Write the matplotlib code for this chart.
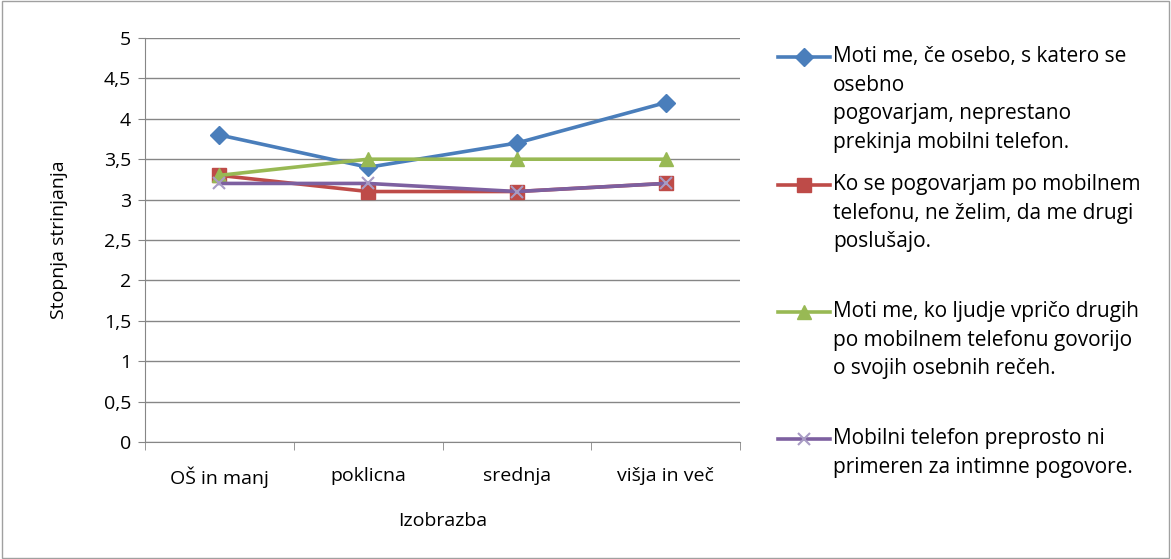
import matplotlib
matplotlib.use("Agg")
import matplotlib.pyplot as plt
from matplotlib.lines import Line2D
from matplotlib.patches import Rectangle

categories = ["OŠ in manj", "poklicna", "srednja", "višja in več"]
s1 = [3.8, 3.4, 3.7, 4.2]
s2 = [3.3, 3.1, 3.1, 3.2]
s3 = [3.3, 3.5, 3.5, 3.5]
s4 = [3.2, 3.2, 3.1, 3.2]
labels = [
    "Moti me, če osebo, s katero se\nosebno\npogovarjam, neprestano\nprekinja mobilni telefon.",
    "Ko se pogovarjam po mobilnem\ntelefonu, ne želim, da me drugi\nposlušajo.",
    "Moti me, ko ljudje vpričo drugih\npo mobilnem telefonu govorijo\no svojih osebnih rečeh.",
    "Mobilni telefon preprosto ni\nprimeren za intimne pogovore.",
]
yticks = [0, 0.5, 1, 1.5, 2, 2.5, 3, 3.5, 4, 4.5, 5]
ytick_labels = ["0", "0,5", "1", "1,5", "2", "2,5", "3", "3,5", "4", "4,5", "5"]

plt.rcParams['font.family'] = ['Open Sans', 'DejaVu Sans']
FS = 14

W, H = 1171, 559
fig = plt.figure(figsize=(W/100, H/100), dpi=100)
fig.patches.append(Rectangle((0.002, 0.002), 0.996, 0.996, transform=fig.transFigure,
                             fill=False, edgecolor="#a0a0a0", linewidth=1.0))

ax = fig.add_axes([145/W, 1-442/H, (740-145)/W, (442-38)/H])
x = list(range(len(categories)))

styles = [
    dict(color="#4A7EBB", marker="D", markersize=9),
    dict(color="#BE4B48", marker="s", markersize=10),
    dict(color="#98B954", marker="^", markersize=10),
    dict(color="#7D60A0", marker="x", markersize=9, markeredgewidth=1.5, markeredgecolor="#A89BC4"),
]
series = [s1, s2, s3, s4]
for s, st in zip(series, styles):
    ax.plot(x, s, linewidth=2.6, **st)

ax.set_xlim(-0.5, len(categories)-0.5)
ax.set_ylim(0, 5)
ax.set_yticks(yticks)
ax.set_yticklabels(ytick_labels, fontsize=FS)
ax.set_xticks(x)
ax.set_xticklabels(categories, fontsize=FS)
ax.tick_params(axis='x', length=0, pad=18)
ax.tick_params(axis='y', length=5, color="#868686", pad=5)
ax.set_xticks([i - 0.5 for i in range(len(categories)+1)], minor=True)
ax.tick_params(axis='x', which='minor', length=6, color="#868686")
ax.grid(axis='y', color="#868686", linewidth=1.0)
ax.set_axisbelow(True)
for sp in ["top", "right"]:
    ax.spines[sp].set_visible(False)
for sp in ["left", "bottom"]:
    ax.spines[sp].set_color("#868686")
ax.set_ylabel("Stopnja strinjanja", fontsize=FS, labelpad=26)
ax.set_xlabel("Izobrazba", fontsize=FS, labelpad=17)

# manual legend
line_y = [57, 185, 312, 439]
for ly, lab, st in zip(line_y, labels, styles):
    yf = 1 - ly/H
    fig.add_artist(Line2D([778/W, 830/W], [yf, yf], transform=fig.transFigure,
                          linewidth=2.6, color=st["color"]))
    fig.add_artist(Line2D([804/W], [yf], transform=fig.transFigure, linestyle="none", **st))
    fig.text(833/W, yf + 11/H, lab, fontsize=15, va="top", ha="left", linespacing=1.47)

fig.savefig("out.png", dpi=100)
